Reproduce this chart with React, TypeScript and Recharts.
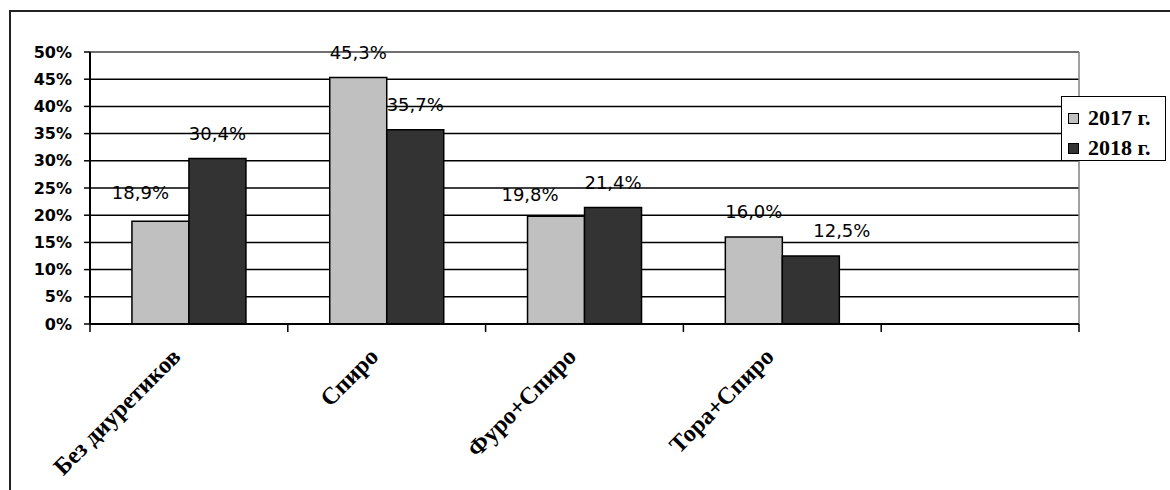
import { BarChart, Bar, XAxis, YAxis, CartesianGrid, LabelList, Legend } from 'recharts'

// категории и доли по годам
const categories = ['Без диуретиков', 'Спиро', 'Фуро+Спиро', 'Тора+Спиро', '']
const values2017 = [0.189, 0.453, 0.198, 0.16, null]
const values2018 = [0.304, 0.357, 0.214, 0.125, null]
const seriesNames = ['2017 г.', '2018 г.']
const yTicks = [0, 0.05, 0.1, 0.15, 0.2, 0.25, 0.3, 0.35, 0.4, 0.45, 0.5]

const COLORS = ['#c0c0c0', '#333333']
const SERIF = '"Liberation Serif", "Times New Roman", serif'

// сдвиги подписей значений [dx, dy], как они были разнесены вручную
const NUDGE_2017 = [[-20, -3], [0, 0], [-26, 4], [0, 0]]
const NUDGE_2018 = [[0, 0], [0, 0], [0, 0], [31, 0]]

const CHART_W = 1170
const CHART_H = 490
const MARGIN = { top: 52, right: 91, bottom: 0, left: 0 }
const Y_AXIS_W = 90
const X_AXIS_H = 166
const PLOT_RIGHT = CHART_W - MARGIN.right
const BAND = (PLOT_RIGHT - Y_AXIS_W) / categories.length

const data = categories.map((name, i) => ({
  name,
  y2017: values2017[i],
  y2018: values2018[i],
}))

const fmtPct = (v: number) => (v * 100).toFixed(1).replace('.', ',') + '%'

const makeLabel = (nudge: number[][]) => (props: any) => {
  const { x, y, width, value, index } = props
  if (value == null) return null
  const [dx, dy] = nudge[index] || [0, 0]
  return (
    <text
      x={Number(x) + Number(width) / 2 + dx}
      y={Number(y) - 19 + dy}
      textAnchor="middle"
      fontFamily="DejaVu Sans"
      fontSize={18}
      fill="#000"
    >
      {fmtPct(value)}
    </text>
  )
}

const CategoryTick = (props: any) => {
  const { x, y, payload, index } = props
  const half = BAND / 2
  return (
    <g>
      <line x1={x - half} y1={y} x2={x - half} y2={y + 8} stroke="#000" strokeWidth={1.5} />
      {index === categories.length - 1 && (
        <line x1={x + half} y1={y} x2={x + half} y2={y + 8} stroke="#000" strokeWidth={1.5} />
      )}
      {payload.value && (
        <text
          transform={`translate(${x - 7},${y + 34}) rotate(-45)`}
          textAnchor="end"
          style={{ fontFamily: SERIF, fontWeight: 'bold', fontSize: 24 }}
          fill="#000"
        >
          {payload.value}
        </text>
      )}
    </g>
  )
}

const renderLegend = () => (
  <div
    style={{
      position: 'relative',
      width: 105,
      height: 65,
      boxSizing: 'border-box',
      border: '1.5px solid #000',
      background: '#fff',
    }}
  >
    {seriesNames.map((name, i) => (
      <div
        key={name}
        style={{
          position: 'absolute',
          left: 6,
          top: 6 + i * 30,
          height: 30,
          display: 'flex',
          alignItems: 'center',
          whiteSpace: 'nowrap',
        }}
      >
        <span
          style={{
            display: 'inline-block',
            width: 11,
            height: 11,
            boxSizing: 'border-box',
            border: '1px solid #000',
            background: COLORS[i],
            marginRight: 9,
          }}
        />
        <span
          style={{
            fontFamily: SERIF,
            fontWeight: 'bold',
            fontSize: 22,
            lineHeight: '30px',
            color: '#000',
          }}
        >
          {name}
        </span>
      </div>
    ))}
  </div>
)

export default function App() {
  return (
    <div
      style={{
        position: 'absolute',
        left: 0,
        top: 0,
        width: CHART_W,
        height: CHART_H,
        overflow: 'hidden',
        background: '#fff',
      }}
    >
      <div
        style={{
          position: 'absolute',
          left: 9,
          top: 10,
          width: 1300,
          height: 600,
          boxSizing: 'border-box',
          border: '2px solid #222',
        }}
      />
      <div style={{ position: 'absolute', left: 0, top: 0 }}>
        <BarChart
          width={CHART_W}
          height={CHART_H}
          data={data}
          margin={MARGIN}
          barCategoryGap="21.2%"
          barGap={0}
        >
          <CartesianGrid vertical={false} stroke="#000" strokeWidth={1.5} />
          {/* серая рамка области построения сверху и справа */}
          <CartesianGrid
            horizontalPoints={[MARGIN.top]}
            verticalPoints={[PLOT_RIGHT]}
            stroke="#808080"
            strokeWidth={1.5}
          />
          <XAxis
            dataKey="name"
            height={X_AXIS_H}
            interval={0}
            tickSize={0}
            tickMargin={0}
            tickLine={false}
            axisLine={{ stroke: '#000', strokeWidth: 2 }}
            tick={<CategoryTick />}
          />
          <YAxis
            width={Y_AXIS_W}
            domain={[0, 0.5]}
            ticks={yTicks}
            interval={0}
            tickSize={6}
            tickMargin={12}
            tickFormatter={(v: number) => `${Math.round(v * 100)}%`}
            tick={{ fill: '#000', fontSize: 16, fontWeight: 'bold', fontFamily: 'DejaVu Sans' }}
            tickLine={{ stroke: '#000', strokeWidth: 1.5 }}
            axisLine={{ stroke: '#000', strokeWidth: 2 }}
          />
          <Legend
            layout="horizontal"
            verticalAlign="middle"
            align="center"
            content={renderLegend}
            wrapperStyle={{ left: 1061, top: 96, width: 105, height: 65 }}
          />
          <Bar
            dataKey="y2017"
            name={seriesNames[0]}
            fill={COLORS[0]}
            stroke="#000"
            strokeWidth={1.5}
            isAnimationActive={false}
          >
            <LabelList dataKey="y2017" content={makeLabel(NUDGE_2017)} />
          </Bar>
          <Bar
            dataKey="y2018"
            name={seriesNames[1]}
            fill={COLORS[1]}
            stroke="#000"
            strokeWidth={1.5}
            isAnimationActive={false}
          >
            <LabelList dataKey="y2018" content={makeLabel(NUDGE_2018)} />
          </Bar>
        </BarChart>
      </div>
    </div>
  )
}
